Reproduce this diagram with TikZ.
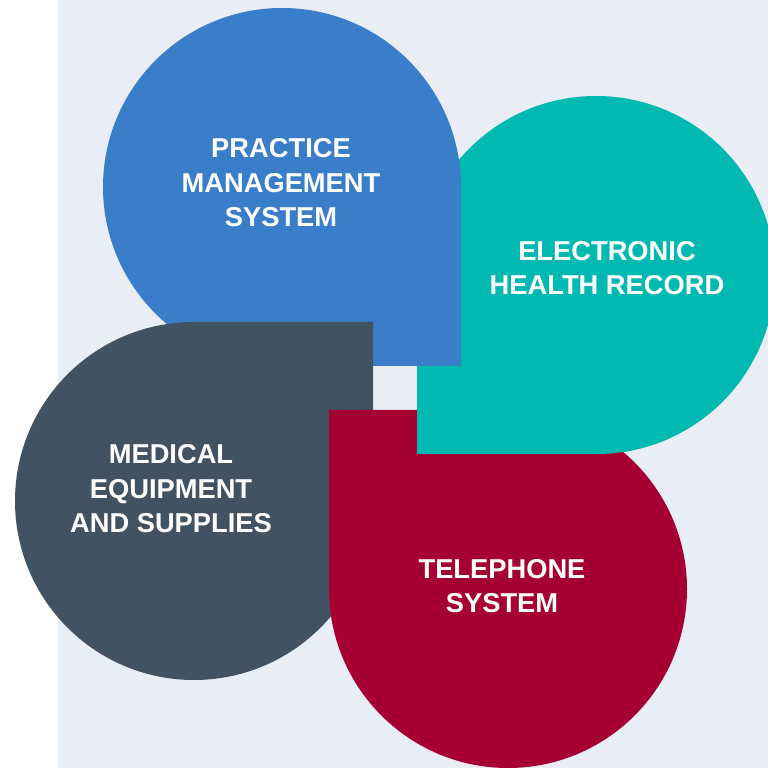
\documentclass[tikz,border=0pt]{standalone}
\usepackage{fontspec}
\setmainfont{Liberation Sans}
\definecolor{pageblue}{HTML}{E9EDF6}
\definecolor{pmsblue}{HTML}{3A7DC9}
\definecolor{ehrteal}{HTML}{00B9B1}
\definecolor{medslate}{HTML}{415262}
\definecolor{telred}{HTML}{A60033}
\tikzset{
  label text/.style={text=white, font=\fontsize{27.3}{34.5}\selectfont\bfseries,
    align=center, inner sep=0pt},
}
% teardrop petals: a circle of radius 179 with one square corner
\newcommand{\pmspetal}{(461,581) arc[start angle=0,end angle=270,radius=179] -- (461,402) -- cycle}
\newcommand{\ehrpetal}{(596,314) arc[start angle=-90,end angle=180,radius=179] -- (417,314) -- cycle}
\newcommand{\medpetal}{(194,446) arc[start angle=90,end angle=360,radius=179] -- (373,446) -- cycle}
\newcommand{\telpetal}{(329,179) arc[start angle=180,end angle=450,radius=179] -- (329,358) -- cycle}
\begin{document}
\begin{tikzpicture}[x=1pt,y=1pt]
  \useasboundingbox (0,0) rectangle (768,768);
  \fill[white] (0,0) rectangle (768,768);
  \fill[pageblue] (58,0) rectangle (768,768);
  \begin{scope}
    \clip (0,0) rectangle (768,768);
    \fill[ehrteal] \ehrpetal;
    \fill[pmsblue] \pmspetal;
    \fill[medslate] \medpetal;
    \fill[telred] \telpetal;
    % the record petal lies over the telephone petal
    \begin{scope}
      \clip (400,0) rectangle (768,390);
      \fill[ehrteal] \ehrpetal;
    \end{scope}
  \end{scope}
  \node[label text] (pms) at (281,585) {PRACTICE\\MANAGEMENT\\SYSTEM};
  \node[label text] (ehr) at (607,500) {ELECTRONIC\\HEALTH RECORD};
  \node[label text] (med) at (171,279) {MEDICAL\\EQUIPMENT\\AND SUPPLIES};
  \node[label text] (tel) at (502,182) {TELEPHONE\\SYSTEM};
\end{tikzpicture}
\end{document}
